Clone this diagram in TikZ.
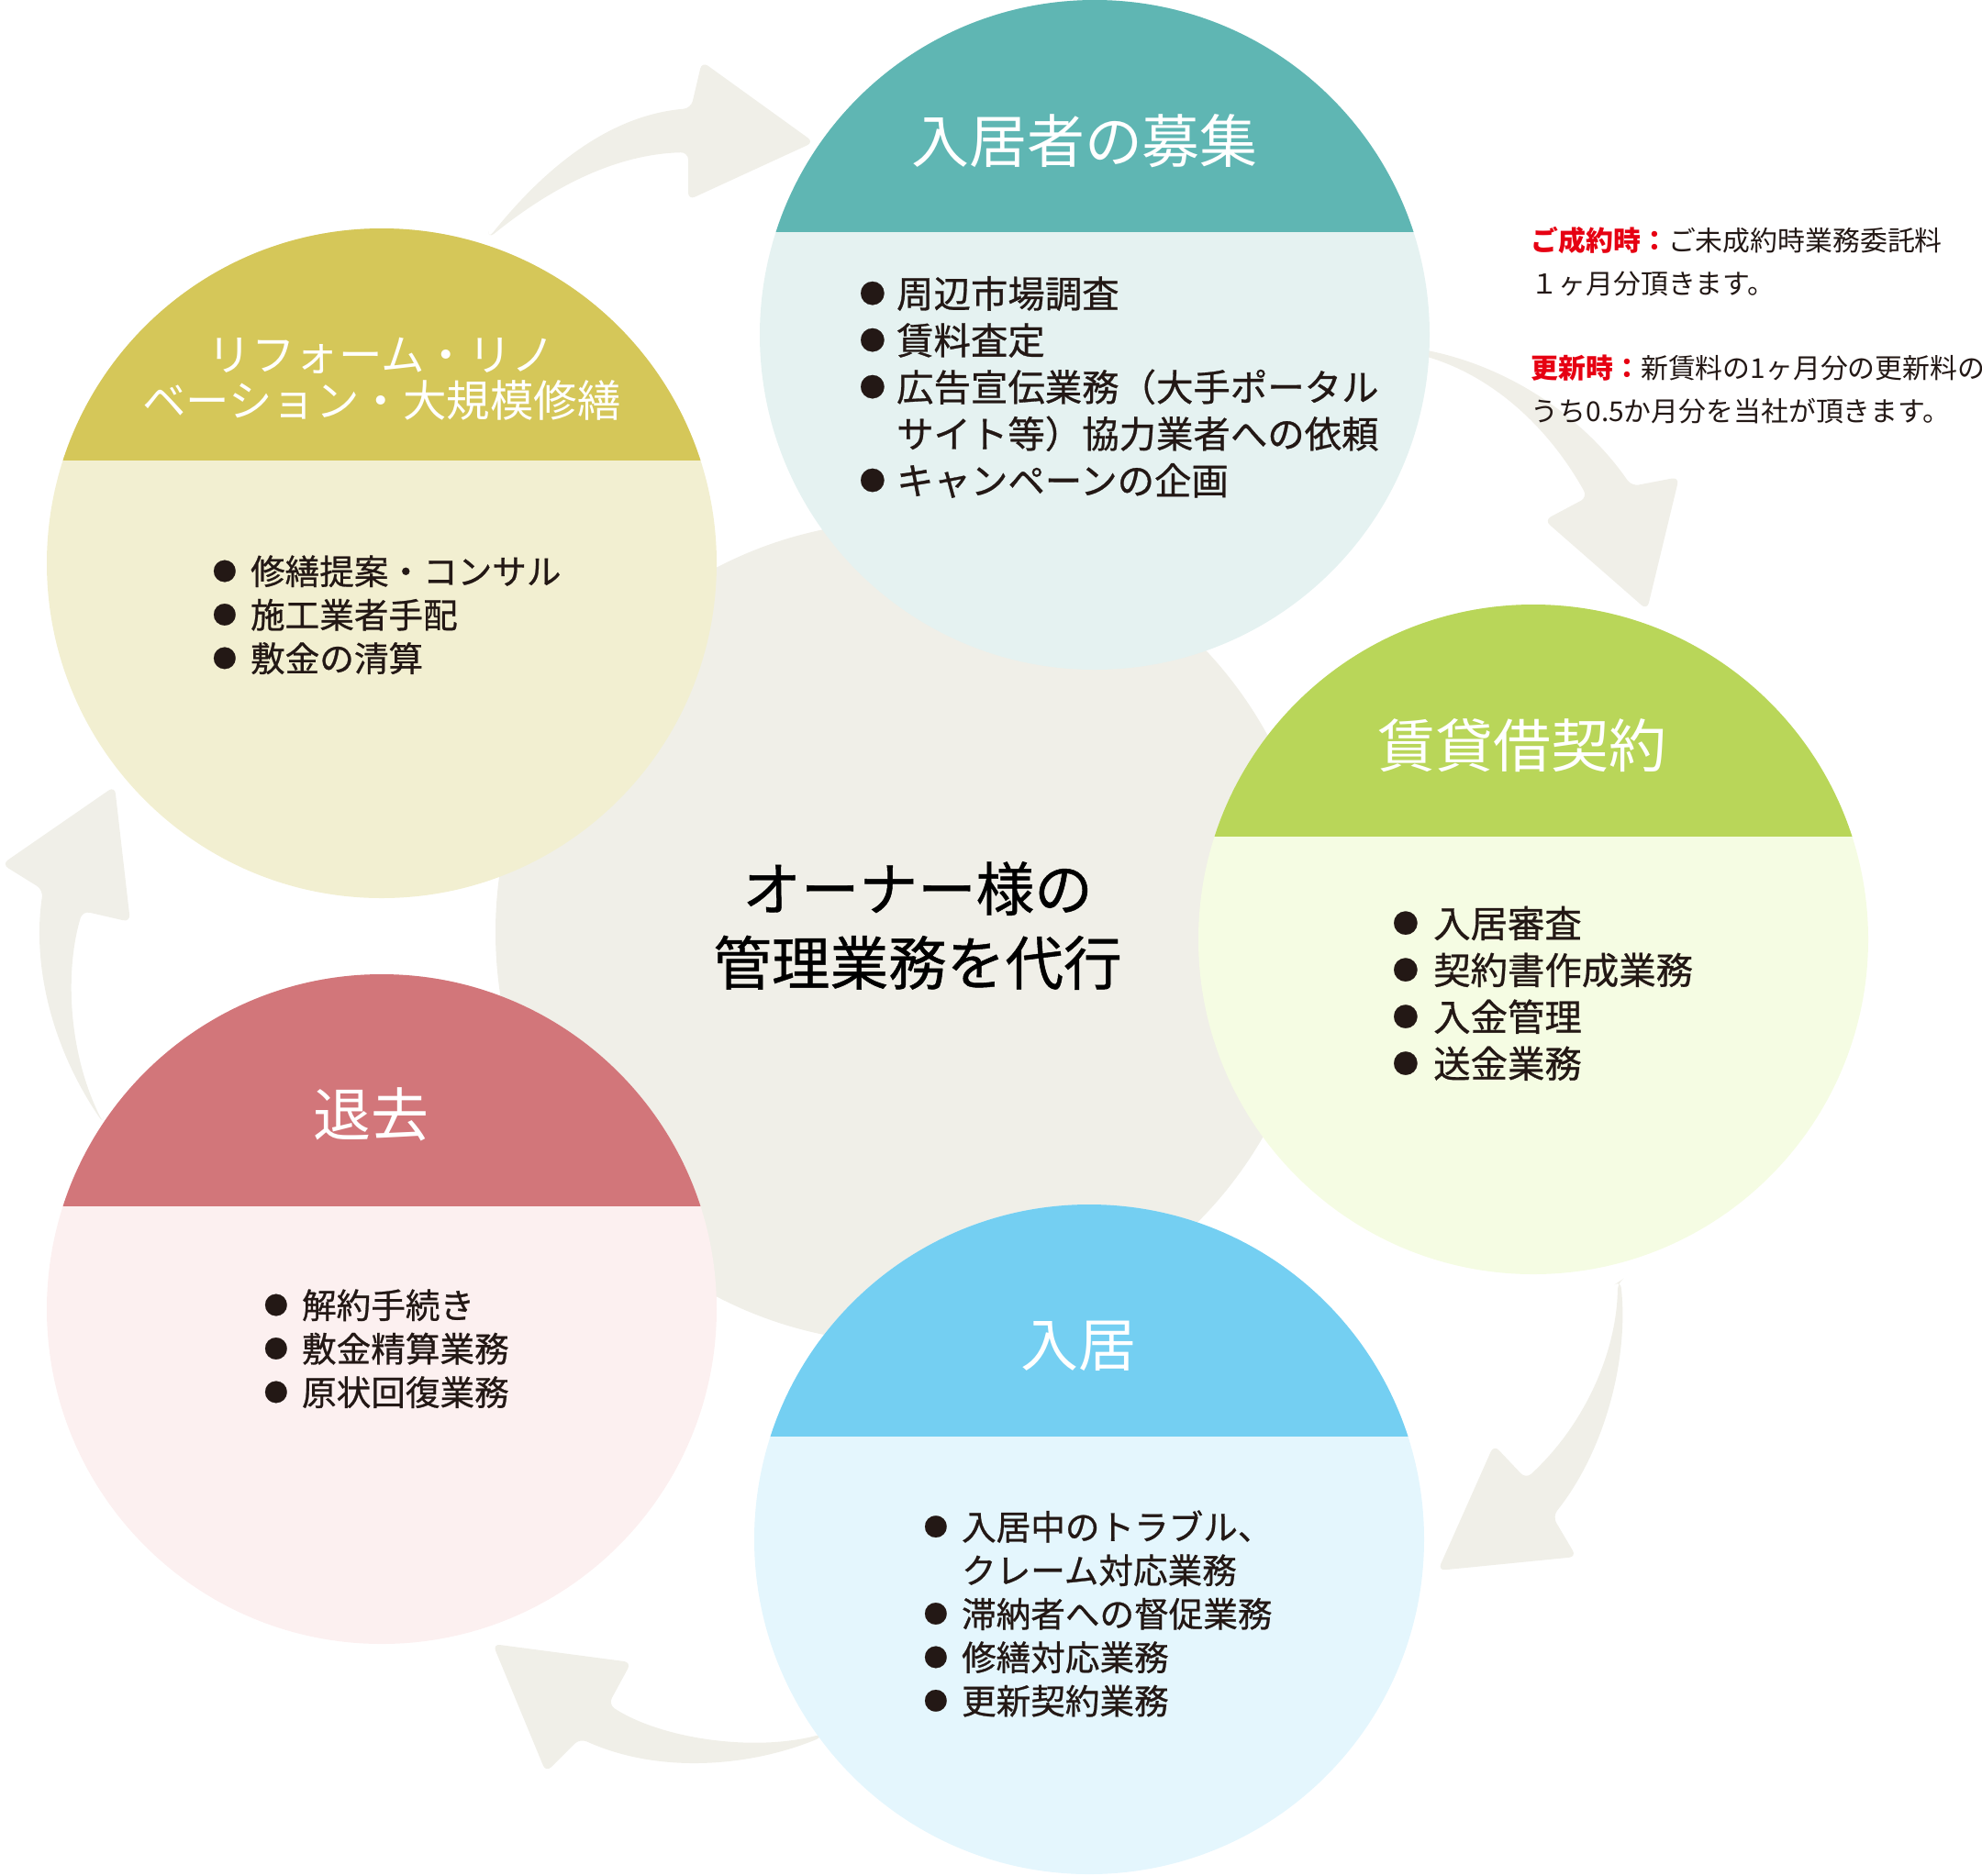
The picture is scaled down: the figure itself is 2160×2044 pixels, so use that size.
\documentclass[tikz,border=0pt]{standalone}
\usepackage{fontspec}
\setmainfont{Noto Sans CJK JP}
\newfontfamily\jpmid{Noto Sans CJK JP}[FakeBold=0.7]

\definecolor{ink}{HTML}{231815}
\definecolor{notered}{HTML}{E60012}
\definecolor{flowgray}{HTML}{F0EFE8}
\definecolor{hdteal}{HTML}{5FB6B3}
\definecolor{bdteal}{HTML}{E5F2F1}
\definecolor{hdolive}{HTML}{D5C759}
\definecolor{bdolive}{HTML}{F2EFD1}
\definecolor{hdlime}{HTML}{B9D659}
\definecolor{bdlime}{HTML}{F5FCE3}
\definecolor{hdsky}{HTML}{74CFF2}
\definecolor{bdsky}{HTML}{E4F6FD}
\definecolor{hdrose}{HTML}{D2767A}
\definecolor{bdrose}{HTML}{FCF0F0}

\newcommand{\dotmark}{\raisebox{0.12em}{\scalebox{0.7}{●}}}

\begin{document}
\begin{tikzpicture}[x=0.1mm, y=-0.1mm,
    arrowshape/.style={fill=flowgray, rounded corners=0.8mm},
    headtext/.style={text=white, inner sep=0pt, font=\fontsize{17.9}{20}\selectfont},
    listtext/.style={text=ink, inner sep=0pt, anchor=west, font=\jpmid\fontsize{10.7}{13.5}\selectfont},
    biglist/.style={listtext, font=\jpmid\fontsize{11.5}{14.5}\selectfont}]
    \useasboundingbox (0,0) rectangle (2160,2044);

    % curved arrows of the cycle
    \fill[arrowshape] (532,260) .. controls (600,175) and (670,125) .. (753,118) -- (765,67) -- (887,155)
        -- (750,218) -- (750,166) .. controls (670,168) and (600,205) .. (532,260) -- cycle;
    \fill[arrowshape] (1545,380) .. controls (1650,400) and (1730,460) .. (1778,530) -- (1830,520) -- (1795,665)
        -- (1683,567) -- (1730,542) .. controls (1690,470) and (1630,410) .. (1545,386) -- cycle;
    \fill[arrowshape] (1766,1396) .. controls (1775,1480) and (1750,1580) .. (1692,1653) -- (1718,1697) -- (1567,1712)
        -- (1628,1575) -- (1663,1612) .. controls (1730,1550) and (1762,1470) .. (1763,1398) -- cycle;
    \fill[arrowshape] (897,1890) .. controls (820,1910) and (720,1895) .. (663,1858) -- (688,1812) -- (537,1792)
        -- (595,1932) -- (632,1895) .. controls (720,1935) and (820,1925) .. (897,1893) -- cycle;
    \fill[arrowshape] (113,1225) .. controls (55,1140) and (35,1050) .. (47,970) -- (2,942) -- (125,857)
        -- (142,1005) -- (90,993) .. controls (70,1060) and (75,1150) .. (113,1225) -- cycle;

    % centre disc
    \fill[flowgray] (988,1016) circle (448);
    \node[text=black, inner sep=0pt, align=center, font=\jpmid\fontsize{18.1}{23}\selectfont] (owner) at (1000,1009)
        {オーナー様の\\管理業務を代行};

    % stage discs with coloured caps
    \foreach \cx/\cy/\hd/\bd in {1193/365/hdteal/bdteal, 416/614/hdolive/bdolive, 1671/1024/hdlime/bdlime,
            1187/1678/hdsky/bdsky, 416/1427/hdrose/bdrose}{
        \fill[\bd] (\cx,\cy) circle (365);
        \begin{scope}
            \clip (\cx,\cy) circle (365);
            \fill[\hd] (\cx-370,\cy-370) rectangle (\cx+370,\cy-112);
        \end{scope}
    }

    \node[headtext] (recruithd) at (1182,154) {入居者の募集};
    \node[headtext, align=center, font=\fontsize{13.5}{14.2}\selectfont] (reformhd) at (416,413)
        {リフォーム・リノ\\ベーション・大規模修繕};
    \node[headtext] (leasehd) at (1659,813) {賃貸借契約};
    \node[headtext] (moveinhd) at (1175,1467) {入居};
    \node[headtext] (moveouthd) at (404,1215) {退去};

    \node[biglist] (recruitlist) at (936,427) {\begin{tabular}{@{}l@{\hspace{0.3em}}l@{}}
        \dotmark & 周辺市場調査\\ \dotmark & 賃料査定\\ \dotmark & 広告宣伝業務（大手ポータル\\
        & サイト等）協力業者への依頼\\ \dotmark & キャンペーンの企画\end{tabular}};
    \node[listtext] (reformlist) at (231,675) {\begin{tabular}{@{}l@{\hspace{0.4em}}l@{}}
        \dotmark & 修繕提案・コンサル\\ \dotmark & 施工業者手配\\ \dotmark & 敷金の清算\end{tabular}};
    \node[biglist] (leaselist) at (1517,1088) {\begin{tabular}{@{}l@{\hspace{0.4em}}l@{}}
        \dotmark & 入居審査\\ \dotmark & 契約書作成業務\\ \dotmark & 入金管理\\ \dotmark & 送金業務\end{tabular}};
    \node[listtext] (moveinlist) at (1006,1764) {\begin{tabular}{@{}l@{\hspace{0.4em}}l@{}}
        \dotmark & 入居中のトラブル、\\ & クレーム対応業務\\ \dotmark & 滞納者への督促業務\\
        \dotmark & 修繕対応業務\\ \dotmark & 更新契約業務\end{tabular}};
    \node[listtext] (moveoutlist) at (287,1475) {\begin{tabular}{@{}l@{\hspace{0.4em}}l@{}}
        \dotmark & 解約手続き\\ \dotmark & 敷金精算業務\\ \dotmark & 原状回復業務\end{tabular}};

    % fee note
    \node[text=ink, inner sep=0pt, anchor=west, align=left, font=\fontsize{8.5}{13.4}\selectfont] (fee) at (1668,355)
        {{\color{notered}\bfseries ご成約時：}ご未成約時業務委託料\\１ヶ月分頂きます。\\[12.8pt]
        {\color{notered}\bfseries 更新時：}新賃料の1ヶ月分の更新料の\\うち0.5か月分を当社が頂きます。};
\end{tikzpicture}
\end{document}
